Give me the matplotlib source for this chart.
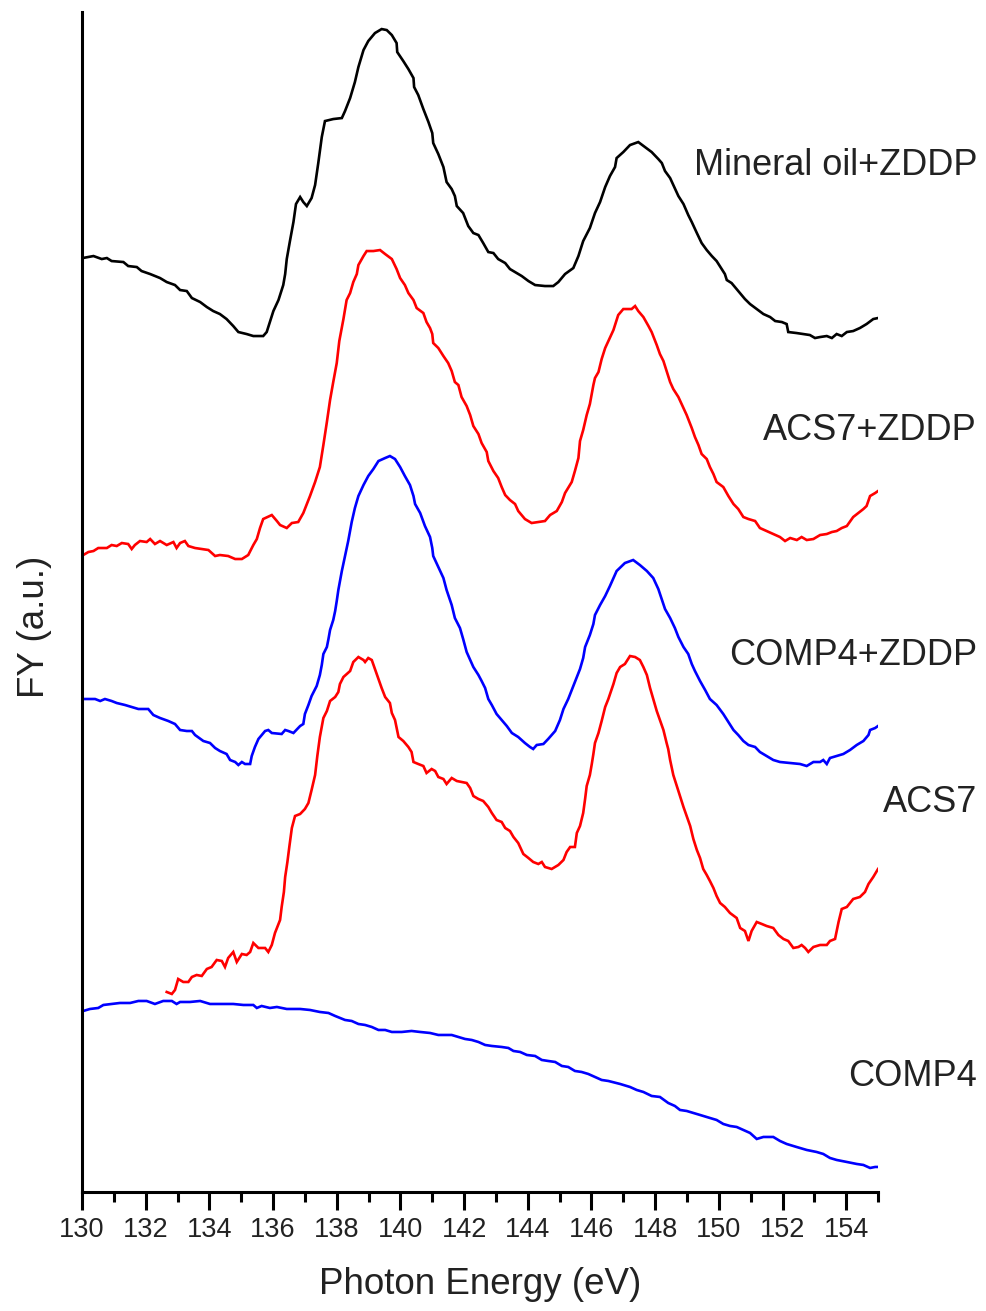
import matplotlib
matplotlib.use("Agg")
import matplotlib.pyplot as plt
import matplotlib.transforms as mtransforms
from matplotlib.ticker import MultipleLocator, NullLocator

plt.rcParams['font.family'] = ['Liberation Sans', 'DejaVu Sans']

# S L-edge fluorescence yield spectra, stacked with vertical offsets (a.u.)
oil_zddp_ev = [130.02, 130.36, 130.62, 130.78, 130.93, 131.30, 131.45, 131.72, 131.87, 132.14,
               132.45, 132.66, 132.92, 133.08, 133.29, 133.45, 133.71, 133.92, 134.12, 134.33,
               134.54, 134.75, 134.91, 135.17, 135.38, 135.69, 135.80, 135.90, 136.01, 136.17,
               136.32, 136.38, 136.43, 136.53, 136.64, 136.72, 136.85, 136.95, 137.06, 137.21,
               137.32, 137.42, 137.53, 137.63, 137.89, 138.16, 138.26, 138.42, 138.57, 138.68,
               138.84, 138.99, 139.20, 139.41, 139.57, 139.73, 139.88, 139.90, 140.09, 140.25,
               140.41, 140.43, 140.56, 140.72, 140.88, 141.00, 141.03, 141.19, 141.35, 141.45,
               141.61, 141.71, 141.77, 141.97, 142.13, 142.29, 142.45, 142.60, 142.76, 142.92,
               143.07, 143.29, 143.44, 143.60, 143.81, 144.02, 144.23, 144.54, 144.80, 144.96,
               145.17, 145.43, 145.59, 145.74, 145.95, 146.11, 146.27, 146.43, 146.58, 146.74,
               146.79, 147.00, 147.21, 147.47, 147.68, 147.89, 148.10, 148.21, 148.31, 148.47,
               148.57, 148.73, 148.89, 149.04, 149.15, 149.31, 149.46, 149.62, 149.78, 149.93,
               150.09, 150.19, 150.25, 150.40, 150.61, 150.82, 150.98, 151.19, 151.40, 151.61,
               151.77, 151.98, 152.13, 152.18, 152.44, 152.65, 152.86, 153.02, 153.18, 153.39,
               153.55, 153.70, 153.86, 154.02, 154.22, 154.43, 154.64, 154.85, 155.00]
oil_zddp_fy = [9.34, 9.36, 9.33, 9.34, 9.31, 9.30, 9.26, 9.25, 9.21, 9.18,
               9.14, 9.10, 9.07, 9.02, 9.01, 8.94, 8.90, 8.85, 8.81, 8.78,
               8.73, 8.66, 8.60, 8.58, 8.56, 8.56, 8.60, 8.70, 8.81, 8.92,
               9.07, 9.18, 9.33, 9.51, 9.70, 9.88, 9.95, 9.90, 9.86, 9.94,
               10.07, 10.29, 10.55, 10.71, 10.73, 10.74, 10.81, 10.94, 11.10, 11.25,
               11.42, 11.51, 11.59, 11.63, 11.62, 11.57, 11.49, 11.40, 11.31, 11.23,
               11.14, 11.05, 10.97, 10.83, 10.70, 10.59, 10.49, 10.38, 10.25, 10.10,
               10.03, 9.96, 9.86, 9.79, 9.66, 9.59, 9.57, 9.49, 9.40, 9.39,
               9.33, 9.29, 9.23, 9.20, 9.16, 9.11, 9.07, 9.06, 9.06, 9.10,
               9.18, 9.24, 9.36, 9.51, 9.64, 9.79, 9.90, 10.05, 10.16, 10.25,
               10.34, 10.40, 10.47, 10.50, 10.45, 10.40, 10.33, 10.29, 10.21, 10.14,
               10.07, 9.96, 9.88, 9.77, 9.70, 9.59, 9.49, 9.42, 9.36, 9.31,
               9.23, 9.18, 9.12, 9.09, 9.01, 8.93, 8.88, 8.83, 8.78, 8.75,
               8.71, 8.70, 8.68, 8.60, 8.59, 8.58, 8.57, 8.54, 8.55, 8.56,
               8.54, 8.58, 8.56, 8.60, 8.61, 8.64, 8.68, 8.73, 8.74]

acs7_zddp_ev = [130.04, 130.20, 130.36, 130.51, 130.78, 130.93, 131.09, 131.25, 131.45, 131.56,
                131.66, 131.82, 132.03, 132.14, 132.29, 132.45, 132.66, 132.87, 132.97, 133.08,
                133.23, 133.34, 133.55, 133.76, 133.97, 134.18, 134.33, 134.59, 134.81, 135.02,
                135.22, 135.38, 135.49, 135.59, 135.69, 135.96, 136.12, 136.22, 136.43, 136.59,
                136.79, 136.95, 137.16, 137.32, 137.47, 137.58, 137.69, 137.79, 137.89, 138.00,
                138.08, 138.21, 138.31, 138.42, 138.52, 138.63, 138.68, 138.84, 138.94, 139.15,
                139.36, 139.52, 139.73, 139.88, 139.99, 140.14, 140.25, 140.41, 140.51, 140.72,
                140.82, 140.93, 141.00, 141.03, 141.19, 141.35, 141.50, 141.61, 141.71, 141.82,
                141.92, 142.08, 142.19, 142.29, 142.45, 142.55, 142.71, 142.76, 142.92, 143.07,
                143.18, 143.29, 143.44, 143.60, 143.70, 143.91, 144.12, 144.33, 144.54, 144.70,
                144.91, 145.07, 145.17, 145.38, 145.48, 145.59, 145.64, 145.74, 145.85, 145.95,
                146.06, 146.11, 146.22, 146.32, 146.43, 146.69, 146.84, 147.00, 147.26, 147.37,
                147.47, 147.63, 147.79, 147.89, 148.05, 148.15, 148.26, 148.36, 148.47, 148.57,
                148.73, 148.89, 148.99, 149.15, 149.25, 149.36, 149.46, 149.62, 149.72, 149.83,
                149.93, 150.14, 150.30, 150.46, 150.61, 150.77, 150.93, 151.14, 151.29, 151.50,
                151.71, 151.92, 152.08, 152.24, 152.45, 152.60, 152.76, 152.97, 153.18, 153.39,
                153.55, 153.70, 153.86, 154.02, 154.22, 154.38, 154.54, 154.64, 154.75, 154.91,
                155.00]
acs7_zddp_fy = [6.37, 6.40, 6.41, 6.44, 6.44, 6.47, 6.46, 6.49, 6.48, 6.43,
                6.47, 6.51, 6.50, 6.53, 6.48, 6.51, 6.47, 6.50, 6.44, 6.49,
                6.51, 6.46, 6.44, 6.43, 6.42, 6.36, 6.37, 6.36, 6.33, 6.33,
                6.37, 6.47, 6.53, 6.64, 6.73, 6.77, 6.71, 6.67, 6.64, 6.69,
                6.70, 6.79, 6.96, 7.10, 7.25, 7.47, 7.70, 7.92, 8.10, 8.29,
                8.51, 8.73, 8.92, 8.99, 9.10, 9.18, 9.27, 9.36, 9.41, 9.41,
                9.42, 9.38, 9.33, 9.23, 9.14, 9.07, 8.99, 8.92, 8.84, 8.79,
                8.70, 8.64, 8.58, 8.49, 8.44, 8.36, 8.29, 8.21, 8.10, 8.07,
                7.95, 7.86, 7.77, 7.66, 7.58, 7.49, 7.40, 7.31, 7.21, 7.14,
                7.05, 6.97, 6.92, 6.88, 6.81, 6.73, 6.69, 6.70, 6.71, 6.77,
                6.81, 6.90, 6.99, 7.10, 7.21, 7.34, 7.51, 7.62, 7.77, 7.88,
                8.07, 8.14, 8.20, 8.33, 8.44, 8.62, 8.77, 8.83, 8.83, 8.86,
                8.81, 8.75, 8.66, 8.60, 8.47, 8.38, 8.31, 8.21, 8.10, 8.03,
                7.95, 7.84, 7.77, 7.64, 7.55, 7.47, 7.38, 7.33, 7.25, 7.18,
                7.10, 7.05, 6.96, 6.88, 6.83, 6.75, 6.73, 6.71, 6.64, 6.61,
                6.58, 6.55, 6.51, 6.54, 6.52, 6.55, 6.52, 6.53, 6.57, 6.58,
                6.60, 6.61, 6.64, 6.66, 6.75, 6.79, 6.83, 6.86, 6.96, 6.99,
                7.01]

comp4_zddp_ev = [130.04, 130.41, 130.57, 130.72, 130.93, 131.09, 131.35, 131.56, 131.77, 132.08,
                 132.24, 132.45, 132.71, 132.92, 133.08, 133.29, 133.45, 133.55, 133.81, 134.02,
                 134.18, 134.33, 134.54, 134.65, 134.81, 134.91, 135.02, 135.12, 135.28, 135.33,
                 135.43, 135.54, 135.75, 135.85, 135.96, 136.27, 136.38, 136.48, 136.64, 136.85,
                 136.95, 137.00, 137.11, 137.21, 137.37, 137.47, 137.53, 137.58, 137.69, 137.74,
                 137.79, 137.89, 137.95, 138.00, 138.05, 138.16, 138.36, 138.47, 138.57, 138.68,
                 138.84, 138.99, 139.15, 139.31, 139.52, 139.67, 139.83, 139.99, 140.14, 140.30,
                 140.41, 140.46, 140.62, 140.77, 140.93, 141.00, 141.03, 141.19, 141.35, 141.45,
                 141.61, 141.71, 141.87, 141.97, 142.08, 142.19, 142.29, 142.45, 142.55, 142.66,
                 142.76, 142.87, 143.02, 143.18, 143.34, 143.50, 143.70, 143.91, 144.07, 144.17,
                 144.28, 144.49, 144.64, 144.86, 145.01, 145.12, 145.27, 145.43, 145.54, 145.64,
                 145.74, 145.80, 145.95, 146.06, 146.11, 146.27, 146.43, 146.58, 146.79, 147.05,
                 147.31, 147.52, 147.74, 147.94, 148.10, 148.31, 148.47, 148.62, 148.73, 148.89,
                 149.04, 149.15, 149.25, 149.41, 149.57, 149.72, 149.93, 150.14, 150.30, 150.46,
                 150.61, 150.77, 150.93, 151.14, 151.29, 151.50, 151.71, 151.92, 152.24, 152.55,
                 152.76, 152.97, 153.18, 153.28, 153.39, 153.49, 153.70, 153.91, 154.12, 154.33,
                 154.54, 154.70, 154.75, 154.91, 155.00]
comp4_zddp_fy = [4.93, 4.93, 4.91, 4.93, 4.91, 4.89, 4.87, 4.85, 4.83, 4.83,
                 4.77, 4.74, 4.71, 4.68, 4.62, 4.61, 4.61, 4.57, 4.51, 4.49,
                 4.44, 4.41, 4.38, 4.32, 4.30, 4.27, 4.30, 4.28, 4.28, 4.36,
                 4.45, 4.53, 4.61, 4.62, 4.59, 4.58, 4.62, 4.61, 4.59, 4.66,
                 4.68, 4.78, 4.87, 4.96, 5.06, 5.17, 5.27, 5.38, 5.45, 5.53,
                 5.62, 5.72, 5.81, 5.91, 6.02, 6.21, 6.51, 6.70, 6.84, 6.96,
                 7.07, 7.16, 7.23, 7.31, 7.34, 7.36, 7.33, 7.25, 7.16, 7.07,
                 6.96, 6.88, 6.79, 6.66, 6.55, 6.44, 6.36, 6.25, 6.14, 6.02,
                 5.87, 5.74, 5.64, 5.53, 5.40, 5.32, 5.25, 5.17, 5.11, 5.04,
                 4.93, 4.87, 4.78, 4.72, 4.66, 4.59, 4.55, 4.49, 4.45, 4.43,
                 4.47, 4.48, 4.53, 4.61, 4.72, 4.83, 4.93, 5.06, 5.15, 5.23,
                 5.34, 5.45, 5.57, 5.68, 5.77, 5.87, 5.96, 6.06, 6.21, 6.29,
                 6.32, 6.27, 6.21, 6.14, 6.03, 5.83, 5.74, 5.64, 5.55, 5.45,
                 5.38, 5.28, 5.21, 5.11, 5.02, 4.93, 4.87, 4.78, 4.70, 4.62,
                 4.57, 4.51, 4.47, 4.45, 4.40, 4.36, 4.32, 4.30, 4.29, 4.28,
                 4.26, 4.30, 4.30, 4.32, 4.28, 4.34, 4.36, 4.38, 4.42, 4.47,
                 4.51, 4.57, 4.62, 4.64, 4.66]

acs7_ev = [132.66, 132.82, 132.92, 133.02, 133.18, 133.34, 133.45, 133.60, 133.76, 133.92,
           134.07, 134.23, 134.39, 134.49, 134.59, 134.75, 134.86, 135.02, 135.17, 135.28,
           135.38, 135.54, 135.75, 135.85, 135.96, 136.06, 136.22, 136.27, 136.34, 136.38,
           136.45, 136.51, 136.59, 136.69, 136.85, 137.00, 137.11, 137.21, 137.32, 137.39,
           137.47, 137.58, 137.69, 137.79, 137.95, 138.05, 138.10, 138.21, 138.42, 138.52,
           138.68, 138.84, 138.89, 138.99, 139.10, 139.20, 139.31, 139.41, 139.52, 139.67,
           139.73, 139.83, 139.94, 140.09, 140.25, 140.35, 140.41, 140.56, 140.72, 140.82,
           140.98, 141.09, 141.19, 141.35, 141.45, 141.61, 141.77, 141.92, 142.08, 142.19,
           142.29, 142.45, 142.60, 142.76, 142.87, 143.02, 143.18, 143.29, 143.44, 143.55,
           143.70, 143.86, 144.02, 144.17, 144.33, 144.44, 144.54, 144.75, 144.96, 145.12,
           145.22, 145.33, 145.48, 145.54, 145.64, 145.74, 145.80, 145.85, 145.95, 146.01,
           146.06, 146.11, 146.22, 146.32, 146.43, 146.53, 146.69, 146.79, 146.90, 147.05,
           147.21, 147.37, 147.52, 147.63, 147.74, 147.84, 147.94, 148.05, 148.15, 148.26,
           148.36, 148.41, 148.47, 148.57, 148.68, 148.78, 148.89, 148.99, 149.10, 149.20,
           149.31, 149.41, 149.51, 149.62, 149.72, 149.83, 149.93, 150.04, 150.19, 150.35,
           150.56, 150.67, 150.82, 150.93, 151.03, 151.19, 151.35, 151.50, 151.71, 151.87,
           152.03, 152.18, 152.34, 152.50, 152.60, 152.71, 152.81, 152.97, 153.18, 153.39,
           153.49, 153.65, 153.76, 153.86, 154.02, 154.22, 154.43, 154.59, 154.70, 154.85,
           155.00]
acs7_fy = [2.00, 1.98, 2.02, 2.13, 2.10, 2.10, 2.15, 2.17, 2.16, 2.23,
           2.25, 2.32, 2.31, 2.25, 2.34, 2.40, 2.30, 2.38, 2.37, 2.40,
           2.49, 2.44, 2.44, 2.40, 2.47, 2.59, 2.72, 2.85, 3.00, 3.15,
           3.30, 3.45, 3.64, 3.76, 3.78, 3.83, 3.89, 4.02, 4.17, 4.36,
           4.55, 4.74, 4.81, 4.91, 4.95, 5.00, 5.08, 5.15, 5.21, 5.30,
           5.35, 5.32, 5.30, 5.34, 5.32, 5.23, 5.13, 5.04, 4.95, 4.89,
           4.79, 4.72, 4.55, 4.51, 4.45, 4.40, 4.30, 4.28, 4.26, 4.19,
           4.23, 4.21, 4.15, 4.13, 4.08, 4.14, 4.11, 4.10, 4.09, 4.04,
           3.96, 3.93, 3.91, 3.85, 3.79, 3.72, 3.70, 3.64, 3.61, 3.55,
           3.49, 3.38, 3.34, 3.30, 3.28, 3.30, 3.25, 3.23, 3.27, 3.32,
           3.40, 3.45, 3.45, 3.59, 3.66, 3.79, 3.93, 4.06, 4.17, 4.28,
           4.38, 4.49, 4.59, 4.71, 4.85, 4.93, 5.08, 5.19, 5.25, 5.28,
           5.36, 5.35, 5.32, 5.25, 5.17, 5.04, 4.93, 4.81, 4.72, 4.62,
           4.49, 4.43, 4.32, 4.17, 4.06, 3.96, 3.85, 3.76, 3.66, 3.53,
           3.42, 3.34, 3.23, 3.17, 3.11, 3.04, 2.96, 2.89, 2.85, 2.79,
           2.74, 2.64, 2.61, 2.51, 2.61, 2.70, 2.68, 2.66, 2.64, 2.57,
           2.53, 2.51, 2.44, 2.45, 2.47, 2.44, 2.40, 2.45, 2.47, 2.47,
           2.51, 2.53, 2.70, 2.83, 2.85, 2.93, 2.95, 3.00, 3.08, 3.15,
           3.23]

comp4_ev = [130.04, 130.25, 130.51, 130.67, 130.93, 131.19, 131.51, 131.77, 132.03, 132.29,
            132.55, 132.82, 132.97, 133.08, 133.39, 133.71, 134.02, 134.33, 134.75, 135.07,
            135.38, 135.49, 135.64, 135.90, 136.12, 136.43, 136.85, 137.16, 137.47, 137.74,
            137.95, 138.26, 138.47, 138.68, 138.89, 139.10, 139.31, 139.52, 139.73, 140.04,
            140.35, 140.62, 140.93, 141.19, 141.61, 141.82, 142.03, 142.24, 142.45, 142.66,
            142.87, 143.18, 143.39, 143.55, 143.76, 143.97, 144.23, 144.44, 144.64, 144.86,
            145.07, 145.27, 145.48, 145.69, 145.90, 146.11, 146.32, 146.53, 146.90, 147.21,
            147.42, 147.63, 147.89, 148.15, 148.41, 148.62, 148.78, 148.99, 149.20, 149.41,
            149.72, 149.93, 150.14, 150.35, 150.56, 150.77, 150.98, 151.19, 151.40, 151.71,
            151.92, 152.13, 152.44, 152.76, 153.07, 153.28, 153.49, 153.70, 154.02, 154.33,
            154.54, 154.75, 154.91, 155.00]
comp4_fy = [1.81, 1.83, 1.84, 1.87, 1.88, 1.89, 1.89, 1.91, 1.91, 1.88,
            1.91, 1.91, 1.88, 1.90, 1.90, 1.91, 1.88, 1.88, 1.88, 1.87,
            1.87, 1.84, 1.86, 1.84, 1.85, 1.83, 1.83, 1.82, 1.80, 1.79,
            1.76, 1.72, 1.71, 1.68, 1.67, 1.65, 1.62, 1.62, 1.60, 1.60,
            1.61, 1.60, 1.59, 1.57, 1.57, 1.55, 1.53, 1.52, 1.50, 1.47,
            1.46, 1.45, 1.44, 1.41, 1.40, 1.37, 1.36, 1.32, 1.31, 1.30,
            1.26, 1.25, 1.21, 1.20, 1.18, 1.15, 1.12, 1.11, 1.08, 1.05,
            1.02, 1.00, 0.96, 0.95, 0.89, 0.86, 0.82, 0.81, 0.79, 0.77,
            0.74, 0.72, 0.68, 0.66, 0.65, 0.62, 0.59, 0.53, 0.55, 0.55,
            0.51, 0.48, 0.45, 0.42, 0.40, 0.38, 0.34, 0.32, 0.30, 0.28,
            0.27, 0.24, 0.25, 0.25]

sample_names = ['Mineral oil+ZDDP', 'ACS7+ZDDP', 'COMP4+ZDDP', 'ACS7', 'COMP4']
sample_colors = ['black', 'red', 'blue', 'red', 'blue']

spectra = [(oil_zddp_ev, oil_zddp_fy), (acs7_zddp_ev, acs7_zddp_fy),
           (comp4_zddp_ev, comp4_zddp_fy), (acs7_ev, acs7_fy), (comp4_ev, comp4_fy)]
label_y = [10.27, 7.62, 5.37, 3.89, 1.15]

fig = plt.figure(figsize=(9.87, 13.11), dpi=100)
ax = fig.add_axes([0.0831, 0.0908, 0.8065, 0.9000])

for (ev, fy), c in zip(spectra, sample_colors):
    ax.plot(ev, fy, color=c, lw=1.9, solid_joinstyle='miter')

ax.set_xlim(130, 155)
ax.set_ylim(0, 11.8)

for side in ['top', 'right']:
    ax.spines[side].set_visible(False)
for side in ['left', 'bottom']:
    ax.spines[side].set_linewidth(2.2)

ax.xaxis.set_major_locator(MultipleLocator(2))
ax.xaxis.set_minor_locator(MultipleLocator(1))
ax.yaxis.set_major_locator(NullLocator())
ax.tick_params(axis='x', which='major', direction='out', length=13, width=2.2,
               pad=5, labelsize=19.5, labelcolor='#222222')
ax.tick_params(axis='x', which='minor', direction='out', length=7, width=2.2)

ax.set_xlabel('Photon Energy (eV)', fontsize=26.5, color='#222222', labelpad=17)
ax.set_ylabel('FY (a.u.)', fontsize=26.5, color='#222222')
ax.yaxis.set_label_coords(-0.038, 0.479)

# sample names sit to the right of the plotting area
trans = mtransforms.blended_transform_factory(fig.transFigure, ax.transData)
for name, y in zip(sample_names, label_y):
    ax.text(0.99, y, name, transform=trans, ha='right', va='center',
            fontsize=26, color='#222222', clip_on=False)

fig.savefig('out.png', dpi=100)
